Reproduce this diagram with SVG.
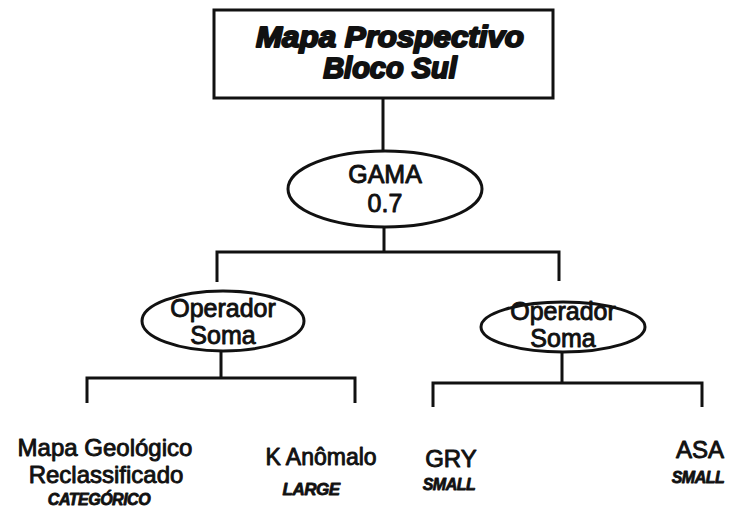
<svg xmlns="http://www.w3.org/2000/svg" width="730" height="510" viewBox="0 0 730 510">
<style>
.ln{stroke:#111;stroke-width:3;fill:none;stroke-linecap:butt}
.nd{stroke:#111;stroke-width:3;fill:#fff}
text{font-family:"Liberation Sans",Arial,sans-serif;fill:#111;text-anchor:middle;stroke:#111;stroke-width:0.9px;stroke-linejoin:round}
.t{font-size:29px;font-weight:bold;font-style:italic;stroke-width:2px}
.n{font-size:25px}
.l{font-size:24px}
.s{font-size:16px;font-weight:bold;font-style:italic;letter-spacing:-0.5px;stroke-width:0.8px}
</style>
<rect width="730" height="510" fill="#fff" stroke="none"/>
<g id="connectors">
<path class="ln" d="M383,98V151"/>
<path class="ln" d="M384,227V252M217,282V252H559V281"/>
<path class="ln" d="M221,351V378M87,403V378H355V403"/>
<path class="ln" d="M562,352V383M433,407V383H702V407"/>
</g>
<g id="title">
<rect class="nd" x="214" y="10" width="339" height="88"/>
<text class="t" x="390" y="47" textLength="268" lengthAdjust="spacingAndGlyphs">Mapa Prospectivo</text>
<text class="t" x="390" y="78">Bloco Sul</text>
</g>
<g id="gama">
<ellipse class="nd" cx="385" cy="189" rx="97" ry="38"/>
<text class="n" x="385" y="183">GAMA</text>
<text class="n" x="385" y="212">0.7</text>
</g>
<g id="soma-left">
<ellipse class="nd" cx="223" cy="321" rx="81" ry="30"/>
<text class="n" x="223" y="317">Operador</text>
<text class="n" x="223" y="344">Soma</text>
</g>
<g id="soma-right">
<ellipse class="nd" cx="563" cy="327" rx="82" ry="25"/>
<text class="n" x="563" y="320">Operador</text>
<text class="n" x="563" y="347">Soma</text>
</g>
<g id="geologico">
<text class="l" x="105" y="456">Mapa Geológico</text>
<text class="l" x="106" y="483">Reclassificado</text>
<text class="s" x="99" y="505">CATEGÓRICO</text>
</g>
<g id="kanomalo">
<text class="l" x="321" y="465" style="font-size:23px">K Anômalo</text>
<text class="s" x="311" y="495" style="font-size:17px">LARGE</text>
</g>
<g id="gry">
<text class="l" x="451" y="467">GRY</text>
<text class="s" x="449" y="490">SMALL</text>
</g>
<g id="asa">
<text class="l" x="700" y="458">ASA</text>
<text class="s" x="698" y="483">SMALL</text>
</g>
</svg>
